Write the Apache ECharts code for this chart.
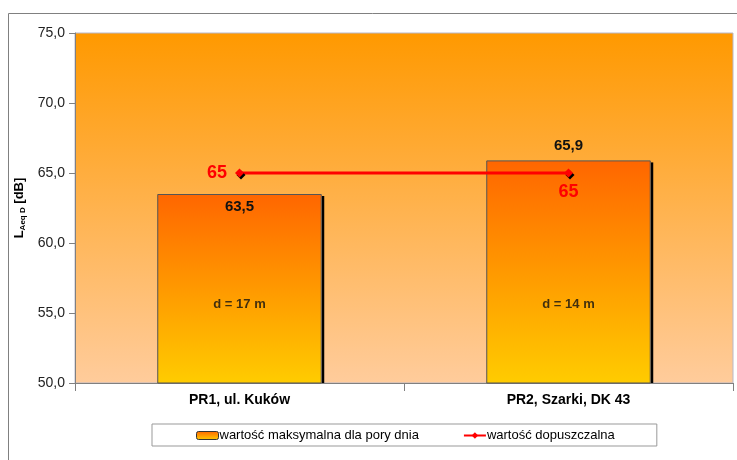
<!DOCTYPE html>
<html>
<head>
<meta charset="utf-8">
<script src="https://cdn.jsdelivr.net/npm/echarts@6/dist/echarts.min.js"></script>
<style>
  html, body { margin: 0; padding: 0; background: #fff; }
  #chart { width: 737px; height: 460px; }
</style>
</head>
<body>
<div id="chart"></div>
<script>
// Measuring points and results
const categories = ['PR1, ul. Kuków', 'PR2, Szarki, DK 43'];
const maxDayValues = [63.5, 65.9];
const permissibleValues = [65, 65];
const distanceTexts = ['d = 17 m', 'd = 14 m'];
const distanceLabelLevel = 55.6;
const yTicks = { min: 50, max: 75, interval: 5 };
const seriesNames = ['wartość maksymalna dla pory dnia', 'wartość dopuszczalna'];

const fmt = v => v.toFixed(1).replace('.', ',');
const FONT = 'Liberation Sans, Arial, sans-serif';
const BAR_RATIO = 0.5;

const chart = echarts.init(document.getElementById('chart'), null, { renderer: 'canvas' });

const barGradient = new echarts.graphic.LinearGradient(0, 0, 0, 1, [
  { offset: 0, color: '#ff6600' },
  { offset: 1, color: '#ffcc00' }
]);

chart.setOption({
  animation: false,
  textStyle: { fontFamily: FONT },
  graphic: [
    // outer frame lines
    { type: 'line', shape: { x1: 8.5, y1: 13.5, x2: 737, y2: 13.5 }, style: { stroke: '#808080', lineWidth: 1 } },
    { type: 'line', shape: { x1: 8.5, y1: 13.5, x2: 8.5, y2: 460 }, style: { stroke: '#808080', lineWidth: 1 } }
  ],
  grid: {
    left: 75, top: 33, right: 4, bottom: 77,
    show: true,
    borderColor: '#b8b8c8',
    borderWidth: 1,
    backgroundColor: new echarts.graphic.LinearGradient(0, 0, 0, 1, [
      { offset: 0, color: '#ff9900' },
      { offset: 1, color: '#ffcc9c' }
    ])
  },
  legend: {
    left: 152, top: 424,
    padding: [5, 42, 4, 44],
    itemGap: 44,
    itemWidth: 22, itemHeight: 8,
    borderColor: '#999', borderWidth: 1,
    backgroundColor: '#fff',
    textStyle: { fontFamily: FONT, fontSize: 13, color: '#000', padding: [0, 0, 0, -4] },
    data: [
      { name: seriesNames[0], itemStyle: { color: barGradient, borderColor: '#333', borderWidth: 1 } },
      { name: seriesNames[1] }
    ]
  },
  xAxis: {
    type: 'category',
    data: categories,
    axisLine: { lineStyle: { color: '#808080' } },
    axisTick: { show: true, length: 8, lineStyle: { color: '#808080' } },
    axisLabel: { fontFamily: FONT, fontSize: 14, fontWeight: 'bold', color: '#000', margin: 10 }
  },
  yAxis: {
    type: 'value',
    min: yTicks.min, max: yTicks.max, interval: yTicks.interval,
    name: '{a|L}{b|Aeq D}{a| [dB]}',
    nameLocation: 'middle',
    nameRotate: 90,
    nameGap: 47,
    nameTextStyle: {
      rich: {
        a: { fontFamily: FONT, fontSize: 13, fontWeight: 'bold', color: '#000' },
        b: { fontFamily: FONT, fontSize: 8, fontWeight: 'bold', color: '#000', padding: [6, 0, 0, 0] }
      }
    },
    splitLine: { show: false },
    axisLine: { show: true, lineStyle: { color: '#808080' } },
    axisTick: { show: true, length: 6, lineStyle: { color: '#808080' } },
    axisLabel: { fontFamily: FONT, fontSize: 14, color: '#222', margin: 10, formatter: v => fmt(v) }
  },
  series: [
    {
      // dark strip along the right edge of each bar
      name: 'barShadow',
      type: 'custom',
      silent: true,
      data: maxDayValues.map((v, i) => [i, v]),
      renderItem: (params, api) => {
        const top = api.coord([api.value(0), api.value(1)]);
        const base = api.coord([api.value(0), yTicks.min]);
        const w = api.size([1, 0])[0] * BAR_RATIO;
        const x = top[0] + w / 2;
        return {
          type: 'rect',
          shape: { x: x, y: top[1] + 2, width: 2.5, height: base[1] - top[1] - 2 },
          style: { fill: '#000' }
        };
      },
      z: 1
    },
    {
      name: seriesNames[0],
      type: 'bar',
      barWidth: (BAR_RATIO * 100) + '%',
      data: maxDayValues.map((v, i) => ({
        value: v,
        label: { position: i === 0 ? 'insideTop' : 'top', distance: i === 0 ? 5 : 7 }
      })),
      itemStyle: {
        color: barGradient,
        borderColor: '#555',
        borderWidth: 1
      },
      label: {
        show: true,
        fontFamily: FONT, fontSize: 15, fontWeight: 'bold', color: '#111',
        formatter: p => fmt(p.value)
      },
      z: 2
    },
    {
      name: 'distance',
      type: 'scatter',
      symbolSize: 0,
      silent: true,
      data: distanceTexts.map((t, i) => ({ value: [i, distanceLabelLevel], label: { formatter: t } })),
      label: {
        show: true, position: 'inside',
        fontFamily: FONT, fontSize: 13, fontWeight: 'bold', color: '#111'
      },
      z: 3
    },
    {
      name: seriesNames[1],
      type: 'line',
      data: permissibleValues.map((v, i) => ({
        value: v,
        label: { position: i === 0 ? 'left' : 'bottom', distance: i === 0 ? 8 : 6 }
      })),
      symbol: 'diamond',
      symbolSize: 9,
      lineStyle: { color: '#ff0000', width: 3 },
      itemStyle: { color: '#ff0000', shadowColor: '#000', shadowOffsetX: 1.5, shadowOffsetY: 2 },
      label: {
        show: true,
        fontFamily: FONT, fontSize: 18, fontWeight: 'bold', color: '#ff0000',
        formatter: p => String(p.value)
      },
      z: 4
    }
  ]
});
</script>
</body>
</html>
